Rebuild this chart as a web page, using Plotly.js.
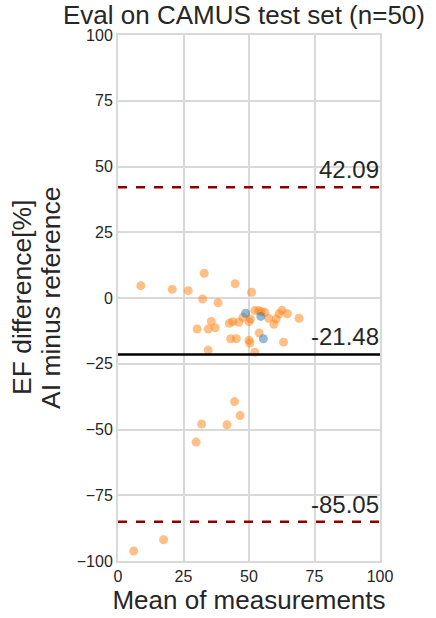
<!DOCTYPE html>
<html>
<head>
<meta charset="utf-8">
<script src="https://cdn.plot.ly/plotly-3.0.1.min.js"></script>
<style>html,body{margin:0;padding:0;background:#fff;}#chart{width:436px;height:618px;}</style>
</head>
<body>
<div id="chart"></div>
<script>
// Orange group (mean, difference)
const orangeMean = [8.7, 20.7, 26.8, 32.9, 44.7, 32.3, 38.2, 51.0,
  52.2, 53.7, 54.7, 56.0, 62.6, 61.5, 64.6, 69.1, 57.5, 60.4, 59.5, 47.7,
  50.5, 50.0, 46.1, 43.8, 42.5, 35.6, 37.1, 34.4, 30.2, 53.9, 43.0, 45.2,
  50.0, 50.3, 63.2, 34.4, 52.2,
  44.5, 46.6, 31.9, 41.6, 29.8, 17.4, 6.0];
const orangeDiff = [4.7, 3.3, 2.8, 9.4, 5.4, -0.4, -1.8, 2.2,
  -4.8, -4.8, -5.2, -5.4, -4.7, -6.0, -6.0, -7.7, -7.7, -8.0, -10.0, -7.3,
  -8.0, -9.0, -9.2, -9.0, -9.6, -8.9, -11.3, -11.8, -11.8, -13.3, -15.5, -15.5,
  -16.1, -17.1, -16.8, -19.8, -20.6,
  -39.4, -44.7, -47.9, -48.2, -54.8, -91.9, -96.2];
// Blue group
const blueMean = [48.7, 54.5, 55.5];
const blueDiff = [-5.8, -7.0, -15.5];

const meanDiff = -21.48;
const upperLoA = 42.09;
const lowerLoA = -85.05;
const xTicks = [0, 25, 50, 75, 100];
const yTicks = [-100, -75, -50, -25, 0, 25, 50, 75, 100];
const titleText = 'Eval on CAMUS test set (n=50)';
const yTitleLines = ['EF difference[%]', 'AI minus reference'];

const font = "Liberation Sans, Arial, sans-serif";
const txt = '#262626';
const grid = '#d9d9d9';

const traces = [
  {x: orangeMean, y: orangeDiff, mode: 'markers', type: 'scatter',
   marker: {color: 'rgba(255,127,14,0.5)', size: 9, line: {width: 0}}, showlegend: false, hoverinfo: 'skip'},
  {x: blueMean, y: blueDiff, mode: 'markers', type: 'scatter',
   marker: {color: 'rgba(31,119,180,0.5)', size: 9, line: {width: 0}}, showlegend: false, hoverinfo: 'skip'}
];

function hline(y, color, dash) {
  return {type: 'line', xref: 'paper', yref: 'y', x0: 0, x1: 1, y0: y, y1: y,
          line: {color: color, width: 2.5, dash: dash}};
}
function label(y, t) {
  return {xref: 'paper', yref: 'y', x: 1.005, y: y, text: t, showarrow: false,
          xanchor: 'right', yanchor: 'bottom', yshift: 2,
          font: {family: font, size: 24, color: txt}};
}
function ytitle(i, xpx) {
  return {xref: 'paper', yref: 'paper', x: 0, xshift: xpx - 118, y: 0.5, xanchor: 'center', yanchor: 'middle',
          text: yTitleLines[i], textangle: -90, showarrow: false,
          font: {family: font, size: 26.5, color: txt}};
}

const layout = {
  width: 436, height: 618,
  margin: {l: 118, r: 56, t: 35, b: 57},
  paper_bgcolor: '#fff', plot_bgcolor: '#fff',
  font: {family: font, color: txt},
  xaxis: {range: [0, 100], tickvals: xTicks, ticktext: xTicks.map(String),
          showgrid: true, gridcolor: grid, gridwidth: 2, zeroline: false,
          showline: true, linecolor: grid, linewidth: 2, mirror: true,
          ticks: '', tickfont: {size: 16, color: txt},
          title: {text: 'Mean of measurements', font: {size: 26, color: txt}, standoff: 6}},
  yaxis: {range: [-100, 100], tickvals: yTicks, ticktext: yTicks.map(v => String(v).replace('-', '\u2212')),
          showgrid: true, gridcolor: grid, gridwidth: 2, zeroline: false,
          showline: true, linecolor: grid, linewidth: 2, mirror: true,
          ticks: '', tickfont: {size: 16, color: txt}},
  shapes: [hline(meanDiff, '#000000', 'solid'), hline(upperLoA, '#8b0000', 'dash'), hline(lowerLoA, '#8b0000', 'dash')],
  annotations: [label(upperLoA, upperLoA.toFixed(2)), label(meanDiff, meanDiff.toFixed(2)), label(lowerLoA, lowerLoA.toFixed(2)),
                ytitle(0, 22), ytitle(1, 51),
                {xref: 'paper', yref: 'paper', x: 0, xshift: 244 - 118, y: 1, yshift: 3, xanchor: 'center', yanchor: 'bottom',
                 text: titleText, showarrow: false, font: {family: font, size: 26, color: txt}}]
};

Plotly.newPlot('chart', traces, layout, {displayModeBar: false, staticPlot: true});
</script>
</body>
</html>
